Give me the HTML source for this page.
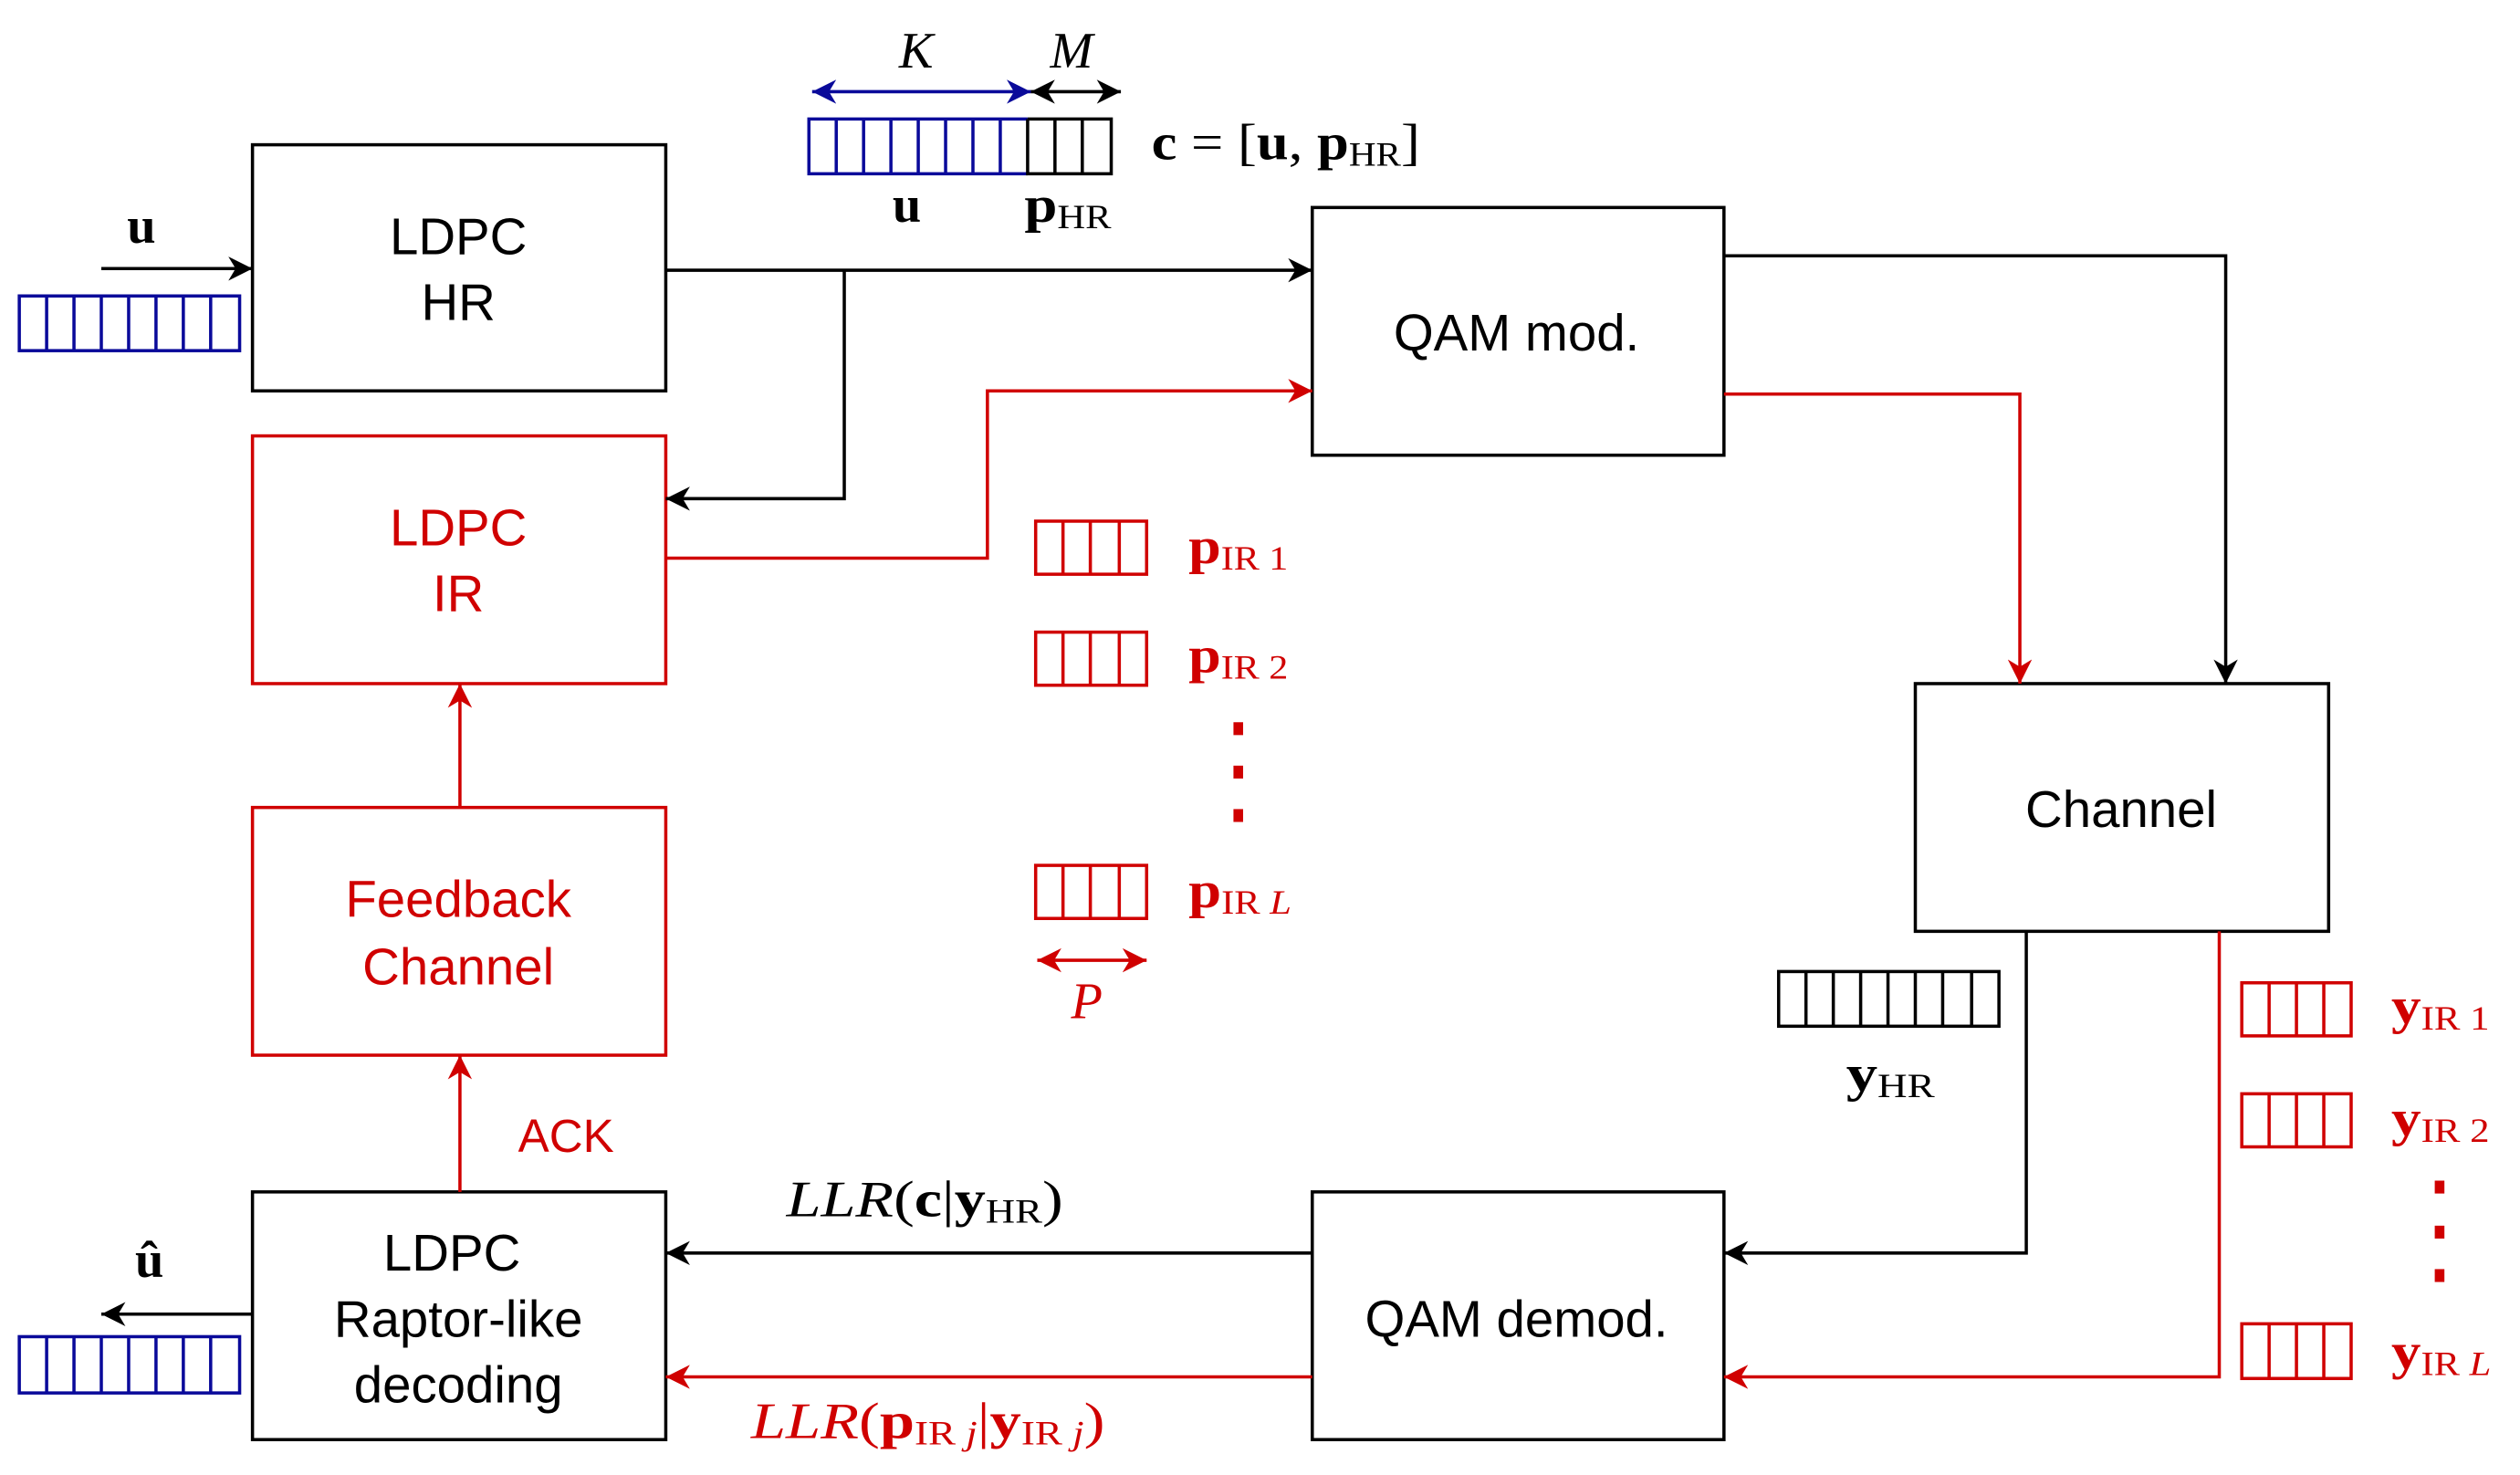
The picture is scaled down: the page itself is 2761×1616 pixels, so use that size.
<!DOCTYPE html>
<html><head><meta charset="utf-8"><style>
html,body{margin:0;padding:0;background:#fff}
svg{display:block}
.bx{font-family:"Liberation Sans",sans-serif;font-size:32px;text-anchor:middle}
.m{font-family:"Liberation Serif",serif;font-size:32px}
.b{font-weight:bold}
.s{font-size:21px}
</style></head><body>
<svg width="2761" height="1616" viewBox="0 0 1567 917" preserveAspectRatio="none" xmlns="http://www.w3.org/2000/svg">
<defs>
<marker id="ak" viewBox="0 0 10 10" refX="10" refY="5" markerWidth="15" markerHeight="15" markerUnits="userSpaceOnUse" orient="auto-start-reverse"><path d="M0,0 L10,5 L0,10 L3,5z" fill="#000"/></marker>
<marker id="ar" viewBox="0 0 10 10" refX="10" refY="5" markerWidth="15" markerHeight="15" markerUnits="userSpaceOnUse" orient="auto-start-reverse"><path d="M0,0 L10,5 L0,10 L3,5z" fill="#d00000"/></marker>
<marker id="ab" viewBox="0 0 10 10" refX="10" refY="5" markerWidth="15" markerHeight="15" markerUnits="userSpaceOnUse" orient="auto-start-reverse"><path d="M0,0 L10,5 L0,10 L3,5z" fill="#0a0a9a"/></marker>
</defs>
<g fill="none" stroke-width="2">
<rect x="157" y="90" width="257" height="153" stroke="#000"/>
<rect x="157" y="271" width="257" height="154" stroke="#d00000"/>
<rect x="157" y="502" width="257" height="154" stroke="#d00000"/>
<rect x="157" y="741" width="257" height="154" stroke="#000"/>
<rect x="816" y="129" width="256" height="154" stroke="#000"/>
<rect x="1191" y="425" width="257" height="154" stroke="#000"/>
<rect x="816" y="741" width="256" height="154" stroke="#000"/>
<g stroke="#000" marker-end="url(#ak)">
<path d="M63,167 H157"/>
<path d="M414,168 H816"/>
<path d="M525,168 V310 H414"/>
<path d="M1072,159 H1384 V425"/>
<path d="M1260,579 V779 H1072"/>
<path d="M816,779 H414"/>
<path d="M157,817 H63"/>
</g>
<g stroke="#d00000" marker-end="url(#ar)">
<path d="M414,347 H614 V243 H816"/>
<path d="M1072,245 H1256 V425"/>
<path d="M1380,579 V856 H1072"/>
<path d="M816,856 H414"/>
<path d="M286,741 V656"/>
<path d="M286,502 V425"/>
</g>
<path d="M505,57 H641" stroke="#0a0a9a" marker-start="url(#ab)" marker-end="url(#ab)"/>
<path d="M641,57 H697" stroke="#000" marker-start="url(#ak)" marker-end="url(#ak)"/>
<path d="M645,597 H713" stroke="#d00000" marker-start="url(#ar)" marker-end="url(#ar)"/>
<g stroke="#0a0a9a">
<rect x="12" y="184" width="137" height="34"/>
<path d="M29,184V218M46,184V218M63,184V218M80,184V218M97,184V218M114,184V218M131,184V218"/>
<rect x="12" y="831" width="137" height="35"/>
<path d="M29,831V866M46,831V866M63,831V866M80,831V866M97,831V866M114,831V866M131,831V866"/>
<path d="M639,74 H503 V108 H639"/>
<path d="M520,74V108M537,74V108M554,74V108M571,74V108M588,74V108M605,74V108M622,74V108"/>
</g>
<g stroke="#000">
<path d="M639,74 H691 V108 H639 V74"/>
<path d="M656,74V108M673,74V108"/>
<rect x="1106" y="604" width="137" height="34"/>
<path d="M1123,604V638M1140,604V638M1157,604V638M1174,604V638M1191,604V638M1208,604V638M1226,604V638"/>
</g>
<g stroke="#d00000">
<rect x="644" y="324" width="69" height="33"/><path d="M661,324V357M678,324V357M696,324V357"/>
<rect x="644" y="393" width="69" height="33"/><path d="M661,393V426M678,393V426M696,393V426"/>
<rect x="644" y="538" width="69" height="33"/><path d="M661,538V571M678,538V571M696,538V571"/>
<rect x="1394" y="611" width="68" height="33"/><path d="M1411,611V644M1428,611V644M1445,611V644"/>
<rect x="1394" y="680" width="68" height="33"/><path d="M1411,680V713M1428,680V713M1445,680V713"/>
<rect x="1394" y="823" width="68" height="34"/><path d="M1411,823V857M1428,823V857M1445,823V857"/>
</g>
</g>
<g fill="#d00000">
<rect x="767" y="449" width="6" height="8"/><rect x="767" y="476" width="6" height="8"/><rect x="767" y="503" width="6" height="8"/>
<rect x="1514" y="734" width="6" height="8"/><rect x="1514" y="762" width="6" height="8"/><rect x="1514" y="789" width="6" height="8"/>
</g>
<text class="bx" x="285" y="158">LDPC</text>
<text class="bx" x="285" y="199">HR</text>
<text class="bx" x="285" y="339" fill="#d00000">LDPC</text>
<text class="bx" x="285" y="380" fill="#d00000">IR</text>
<text class="bx" x="285" y="570" fill="#d00000">Feedback</text>
<text class="bx" x="285" y="612" fill="#d00000">Channel</text>
<text class="bx" x="281" y="790">LDPC</text>
<text class="bx" x="285" y="831">Raptor-like</text>
<text class="bx" x="285" y="872">decoding</text>
<text class="bx" x="943" y="218">QAM mod.</text>
<text class="bx" x="1319" y="514">Channel</text>
<text class="bx" x="943" y="831">QAM demod.</text>
<text class="bx" x="352" y="716" fill="#d00000" style="font-size:29px">ACK</text>
<text class="m b" x="79" y="151">u</text>
<text class="m b" x="84" y="794">û</text>
<text class="m" x="559" y="42" font-style="italic">K</text>
<text class="m" x="653" y="42" font-style="italic">M</text>
<text class="m" x="716" y="99" textLength="167" lengthAdjust="spacingAndGlyphs"><tspan class="b">c</tspan> = [<tspan class="b">u</tspan>, <tspan class="b">p</tspan><tspan class="s" dy="4">HR</tspan><tspan dy="-4">]</tspan></text>
<text class="m b" x="555" y="138">u</text>
<text class="m" x="637" y="138" textLength="54" lengthAdjust="spacingAndGlyphs"><tspan class="b">p</tspan><tspan class="s" dy="4">HR</tspan></text>
<g class="m" fill="#d00000">
<text x="739" y="350" textLength="62" lengthAdjust="spacingAndGlyphs"><tspan class="b">p</tspan><tspan class="s" dy="4">IR 1</tspan></text>
<text x="739" y="418" textLength="62" lengthAdjust="spacingAndGlyphs"><tspan class="b">p</tspan><tspan class="s" dy="4">IR 2</tspan></text>
<text x="739" y="564" textLength="64" lengthAdjust="spacingAndGlyphs"><tspan class="b">p</tspan><tspan class="s" dy="4">IR <tspan font-style="italic">L</tspan></tspan></text>
<text x="666" y="633" font-style="italic">P</text>
<text x="1487" y="636" textLength="61" lengthAdjust="spacingAndGlyphs"><tspan class="b">y</tspan><tspan class="s" dy="4">IR 1</tspan></text>
<text x="1487" y="706" textLength="61" lengthAdjust="spacingAndGlyphs"><tspan class="b">y</tspan><tspan class="s" dy="4">IR 2</tspan></text>
<text x="1487" y="851" textLength="62" lengthAdjust="spacingAndGlyphs"><tspan class="b">y</tspan><tspan class="s" dy="4">IR <tspan font-style="italic">L</tspan></tspan></text>
<text x="467" y="894" textLength="220" lengthAdjust="spacingAndGlyphs"><tspan font-style="italic">LLR</tspan>(<tspan class="b">p</tspan><tspan class="s" dy="4">IR <tspan font-style="italic">j</tspan></tspan><tspan dy="-4">|</tspan><tspan class="b">y</tspan><tspan class="s" dy="4">IR <tspan font-style="italic">j</tspan></tspan><tspan dy="-4">)</tspan></text>
</g>
<text class="m" x="1148" y="678" textLength="55" lengthAdjust="spacingAndGlyphs"><tspan class="b">y</tspan><tspan class="s" dy="4">HR</tspan></text>
<text class="m" x="489" y="756" textLength="172" lengthAdjust="spacingAndGlyphs"><tspan font-style="italic">LLR</tspan>(<tspan class="b">c</tspan>|<tspan class="b">y</tspan><tspan class="s" dy="4">HR</tspan><tspan dy="-4">)</tspan></text>
</svg>
</body></html>
